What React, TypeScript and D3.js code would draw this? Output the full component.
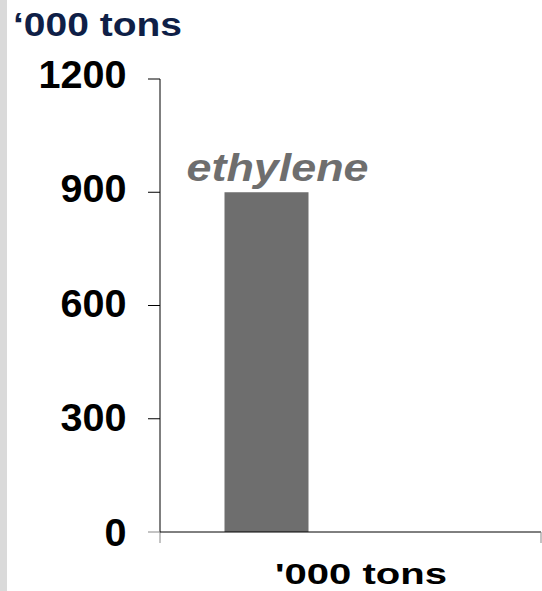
import React from "react";
import * as d3 from "d3";

const categories = ["'000 tons"];
const series = ["ethylene", "s2", "s3"];
const values = [900, 0, 0];
const yTicks = [0, 300, 600, 900, 1200];
const title = "‘000 tons";

const W = 542, H = 591;
const FONT = "'Liberation Sans', Arial, sans-serif";

export default function App() {
  const y = d3.scaleLinear().domain([0, 1200]).range([532, 79]);
  const yLab = d3.scaleLinear().domain([0, 1200]).range([545.5, 88]);
  const x0 = d3.scaleBand().domain(categories).range([160, 541]).paddingInner(0).paddingOuter(0);
  const bw = x0.bandwidth();
  const barW = 84;
  const groupStart = (x0(categories[0]) as number) + (bw - barW * series.length) / 2;
  const x1 = d3.scaleBand().domain(series).range([groupStart, groupStart + barW * series.length]);
  const lbl = (x1(series[0]) as number) - 38;
  return (
    <svg width={W} height={H} style={{ position: "absolute", left: 0, top: 0, background: "#fff" }}>
      <rect x={0} y={0} width={W} height={H} fill="#fff" />
      <rect x={0} y={0} width={7} height={H} fill="#dadada" />
      <text x={13} y={36} fontFamily={FONT} fontWeight="bold" fontSize={34} fill="#0f1f47" textLength={169} lengthAdjust="spacingAndGlyphs">{title}</text>
      {series.map((s, i) => values[i] > 0 ? (
        <rect key={s} x={x1(s)} y={y(values[i])} width={x1.bandwidth()} height={y(0) - y(values[i])} fill="#6e6e6e" />
      ) : null)}
      <text x={lbl} y={y(values[0]) - 11} fontFamily={FONT} fontWeight="bold" fontStyle="italic" fontSize={39} fill="#6e6e6e" textLength={182} lengthAdjust="spacingAndGlyphs">{series[0]}</text>
      <line x1={160} x2={160} y1={y(1200)} y2={y(0)} stroke="#000" strokeWidth={1} />
      <line x1={160} x2={160} y1={y(0)} y2={y(0) + 11} stroke="#888" strokeWidth={1} />
      <line x1={160} x2={541} y1={y(0)} y2={y(0)} stroke="#000" strokeWidth={1} />
      <line x1={541} x2={541} y1={y(0)} y2={y(0) + 11} stroke="#888" strokeWidth={1} />
      {yTicks.map((t) => {
        const s = String(t);
        return (
          <g key={t}>
            <line x1={148} x2={160} y1={y(t)} y2={y(t)} stroke={t === 0 ? "#888" : "#000"} strokeWidth={1} />
            <text x={126.5 - s.length * 22} y={yLab(t)} fontFamily={FONT} fontWeight="bold" fontSize={38} fill="#000" textLength={s.length * 22} lengthAdjust="spacingAndGlyphs">{s}</text>
          </g>
        );
      })}
      <text x={275} y={584} fontFamily={FONT} fontWeight="bold" fontSize={29} fill="#000" textLength={172} lengthAdjust="spacingAndGlyphs">{categories[0]}</text>
    </svg>
  );
}
